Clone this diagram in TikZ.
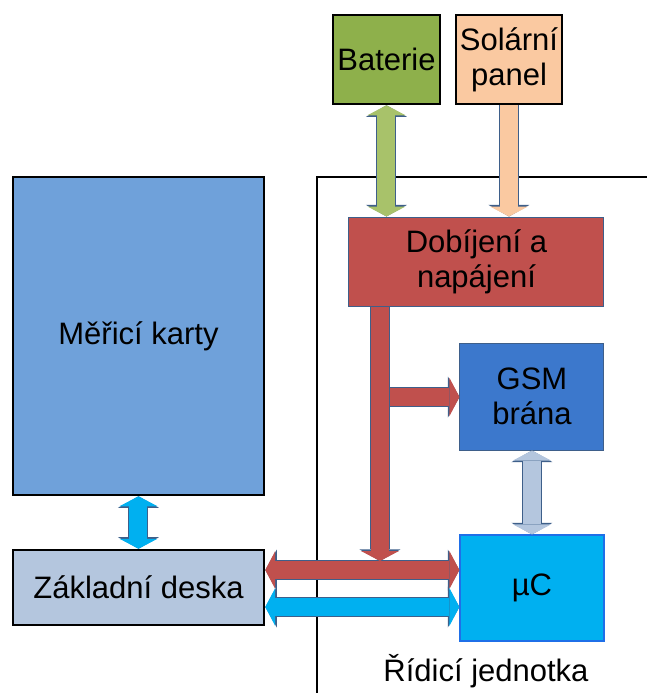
\documentclass[tikz,border=0pt]{standalone}
\usepackage{fontspec}
\setmainfont{Liberation Sans}
\usetikzlibrary{arrows.meta, positioning}

\definecolor{batgreen}{HTML}{8EB04B}
\definecolor{solpeach}{HTML}{FAC9A1}
\definecolor{chgred}{HTML}{C0504D}
\definecolor{gsmblue}{HTML}{3C78CC}
\definecolor{ucblue}{HTML}{00B0F0}
\definecolor{cardblue}{HTML}{6FA1DA}
\definecolor{boardgray}{HTML}{B4C6DE}
\definecolor{arrgreen}{HTML}{A8C26A}
\definecolor{arrline}{HTML}{3E5F8A}
\definecolor{ucline}{HTML}{1F6FE8}

\begin{document}
\begin{tikzpicture}[
    x=0.5pt, y=-0.5pt,
    font=\fontsize{15.5}{17.5}\selectfont,
    blok/.style={rectangle, draw=black, line width=1.25pt, align=center,
                 inner sep=0pt},
    tblok/.style={rectangle, draw=arrline, line width=0.5pt, align=center,
                  inner sep=0pt},
    arr/.style={line width=9pt, draw=#1,
                -{Triangle[width=19pt, length=5pt, line width=0pt]},
                preaction={draw=arrline, line width=10pt,
                           -{Triangle[width=20.5pt, length=5.8pt, line width=0pt]}}},
    darr/.style={line width=9pt, draw=#1,
                 {Triangle[width=19pt, length=5pt, line width=0pt]}-{Triangle[width=19pt, length=5pt, line width=0pt]},
                 preaction={draw=arrline, line width=10pt,
                            {Triangle[width=20.5pt, length=5.8pt, line width=0pt]}-{Triangle[width=20.5pt, length=5.8pt, line width=0pt]}}}
]
\useasboundingbox (0,0) rectangle (647,693);

% ridici jednotka
\draw[line width=1.25pt] (317,693) -- (317,177) -- (647,177);
\node (ridlbl) at (486,671) {Řídicí jednotka};

\node[blok, fill=batgreen, minimum width=53.5pt, minimum height=44.5pt] (bat) at (386.5,59.5) {Baterie};
\node[blok, fill=solpeach, minimum width=53pt, minimum height=44.5pt] (sol) at (509,59.5) {Solární\\panel};
\node[tblok, fill=chgred, minimum width=127.5pt, minimum height=44.5pt] (chg) at (476.5,261.5) {Dobíjení a\\napájení};
\node[tblok, fill=gsmblue, minimum width=72pt, minimum height=53.5pt] (gsm) at (532,396.5) {GSM\\brána};
\node[rectangle, draw=ucline, line width=0.6pt, fill=ucblue, inner sep=0pt,
      minimum width=72pt, minimum height=53pt] (uc) at (532,588) {µC};
\node[blok, fill=cardblue, minimum width=125.5pt, minimum height=159pt] (mer) at (138.5,336) {Měřicí karty};
\node[blok, fill=boardgray, minimum width=125.5pt, minimum height=37.5pt] (zak) at (138.5,587.5) {Základní deska};

\coordinate (tap) at (380,561);
\coordinate (odb) at (386,397);

% propojeni
\draw[darr=arrgreen] (bat.south) -- (bat.south |- chg.north);
\draw[arr=solpeach] (sol.south) -- (sol.south |- chg.north);
\draw[arr=chgred] (odb) -- (odb -| gsm.west);
\draw[darr=boardgray] (gsm.south) -- (uc.north);
\draw[darr=ucblue] (mer.south) -- (zak.north);
\draw[darr=chgred] ([yshift=8.75pt]zak.east) -- ([yshift=8.75pt]zak.east -| uc.west);
\draw[darr=ucblue] ([yshift=-9.75pt]zak.east) -- ([yshift=-9.75pt]zak.east -| uc.west);
\draw[arr=chgred] (chg.south -| tap) -- (tap);
\end{tikzpicture}
\end{document}
